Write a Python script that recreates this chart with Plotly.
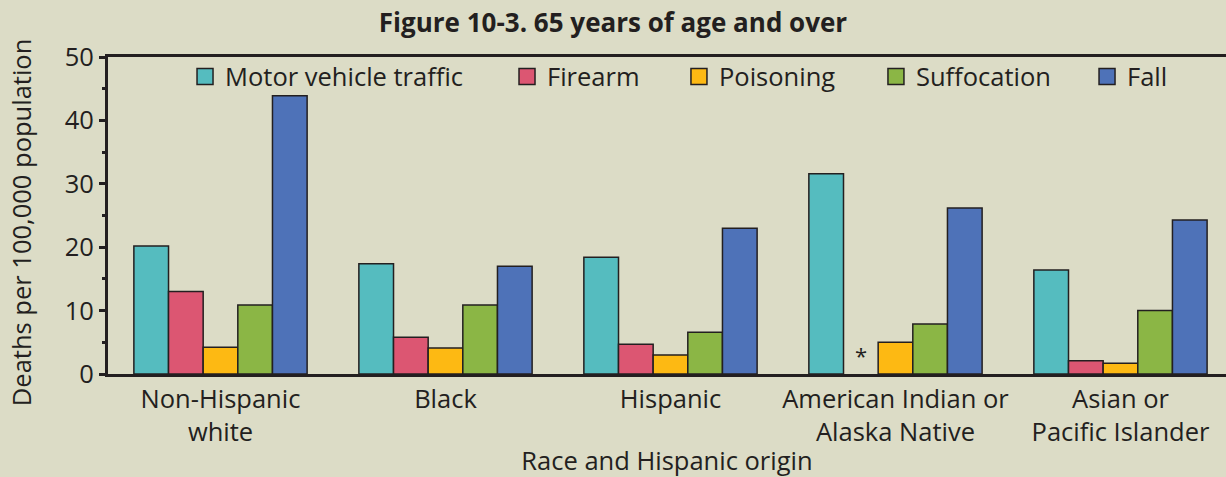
import plotly.graph_objects as go

categories = ["Non-Hispanic<br>white", "Black", "Hispanic",
              "American Indian or<br>Alaska Native", "Asian or<br>Pacific Islander"]
series_names = ["Motor vehicle traffic", "Firearm", "Poisoning", "Suffocation", "Fall"]
motor_vehicle = [20.2, 17.4, 18.4, 31.6, 16.4]
firearm = [13.0, 5.8, 4.7, None, 2.1]
poisoning = [4.2, 4.1, 3.0, 5.0, 1.7]
suffocation = [10.9, 10.9, 6.6, 7.9, 10.0]
fall = [43.9, 17.0, 23.0, 26.2, 24.3]
series_values = [motor_vehicle, firearm, poisoning, suffocation, fall]
colors = ["#55BCBF", "#DC5672", "#FDB913", "#8BB645", "#4E72B8"]

BG = "#DCDCC6"
DARK = "#231F20"
FONT = "Open Sans"
FS = 25.5

fig = go.Figure()
for name, vals, col in zip(series_names, series_values, colors):
    fig.add_trace(go.Bar(x=categories, y=vals, name=name, showlegend=False,
                         marker=dict(color=col, line=dict(color=DARK, width=1.5))))

legend_x = [0.0689, 0.3569, 0.5107, 0.6869, 0.8757]
legend_ids = ["legend", "legend2", "legend3", "legend4", "legend5"]
for name, col, lid in zip(series_names, colors, legend_ids):
    fig.add_trace(go.Scatter(x=[None], y=[None], mode="markers", name=name,
                             legend=lid, showlegend=True,
                             marker=dict(symbol="square", size=16, color=col,
                                         line=dict(color=DARK, width=1.5))))

layout_legends = {}
for lid, lx in zip(legend_ids, legend_x):
    layout_legends[lid] = dict(x=lx, xanchor="left", y=0.937, yanchor="middle",
                               orientation="h", bgcolor="rgba(0,0,0,0)",
                               font=dict(family=FONT, size=FS, color=DARK),
                               itemwidth=30)

fig.add_annotation(x=2.846, y=0, xref="x", yref="y", text="*", showarrow=False,
                   yanchor="bottom", yshift=2, font=dict(family=FONT, size=22, color=DARK))
fig.add_annotation(x=-0.0778, y=0.476, xref="paper", yref="paper",
                   text="Deaths per 100,000 population", textangle=-90, showarrow=False,
                   xanchor="center", yanchor="middle",
                   font=dict(family=FONT, size=FS, color=DARK))

fig.update_layout(
    width=1226, height=477,
    margin=dict(l=108, r=0, t=57, b=103),
    paper_bgcolor=BG, plot_bgcolor=BG,
    bargap=0.23, bargroupgap=0,
    title=dict(text="<b>Figure 10-3. 65 years of age and over</b>", x=0.5, xanchor="center",
               y=1 - 23 / 477, yanchor="middle", font=dict(family=FONT, size=26, color=DARK)),
    font=dict(family=FONT, size=FS, color=DARK),
    **layout_legends,
)
fig.update_xaxes(type="category", range=[-0.5, 4.469], showline=True, linecolor=DARK,
                 linewidth=3, mirror=True, ticks="", showgrid=False,
                 tickfont=dict(family=FONT, size=FS, color=DARK),
                 title=dict(text="Race and Hispanic origin", font=dict(family=FONT, size=FS, color=DARK),
                            standoff=2))
fig.update_yaxes(range=[0, 50], dtick=10, ticks="outside", ticklen=6, tickwidth=2.5,
                 tickcolor=DARK, showline=True, linecolor=DARK, linewidth=3,
                 showgrid=False, zeroline=False,
                 minor=dict(dtick=5, ticks="outside", ticklen=3, tickwidth=2.5, tickcolor=DARK),
                 tickfont=dict(family=FONT, size=FS, color=DARK))

fig.write_html("out.html", config={"displayModeBar": False},
               post_script="document.body.style.margin='0';")
